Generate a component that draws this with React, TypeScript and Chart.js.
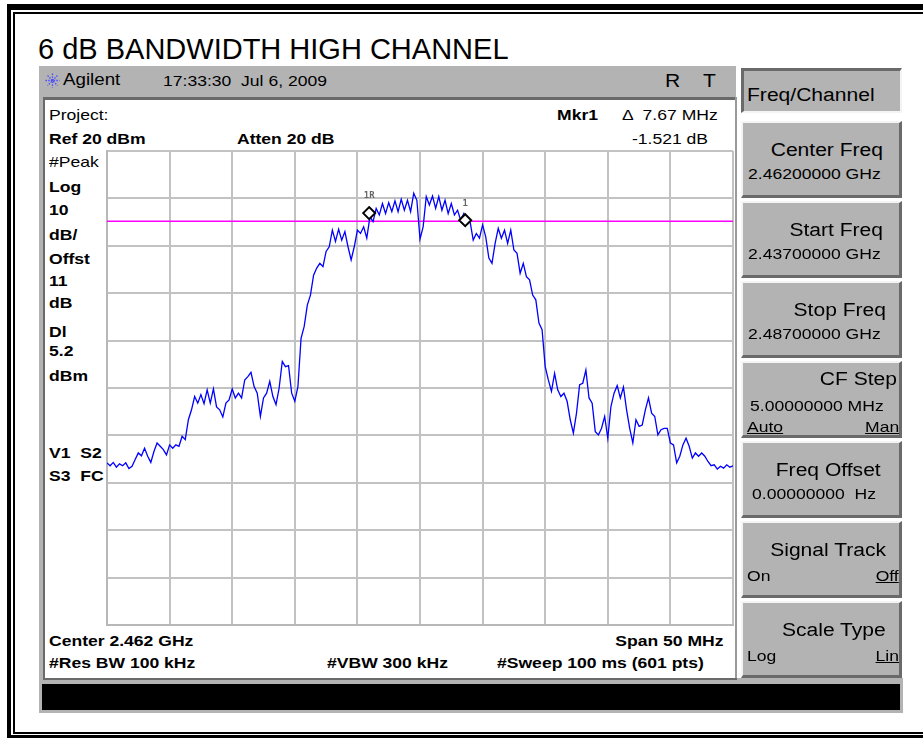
import React, { useEffect, useRef } from "react";
import { Chart, registerables } from "chart.js";

Chart.register(...registerables);

// ---- data ----
const START_MHZ = 2437;
const SPAN_MHZ = 50;
const STEP_MHZ = 0.25;
const REF_LEVEL_DBM = 20;
const DB_PER_DIV = 10;
const DIVISIONS = 10;
const DISPLAY_LINE_DBM = 5.2;

const traceDbm = [
  -45.8, -46.4, -45.7, -46.7, -46.0, -46.4, -45.8, -47.0, -46.5, -45.1,
  -43.7, -44.3, -42.7, -44.4, -45.7, -43.4, -41.6, -42.3, -43.0, -44.1,
  -42.0, -42.7, -42.0, -42.3, -40.2, -40.9, -36.7, -34.6, -31.8, -33.2,
  -31.4, -33.3, -30.4, -33.2, -30.2, -34.0, -34.6, -36.1, -33.2, -32.5,
  -30.2, -32.1, -31.1, -32.1, -28.3, -27.6, -26.7, -29.7, -31.1, -36.0,
  -32.1, -31.1, -28.6, -31.8, -33.5, -30.0, -24.4, -25.5, -25.3, -31.1,
  -32.8, -29.7, -19.5, -17.0, -12.5, -10.4, -6.2, -4.7, -3.7, -4.4,
  -1.2, -0.2, 3.3, 0.9, 3.5, 1.2, 3.0, -0.2, -3.0, -0.2,
  3.3, 2.6, 4.0, 1.6, 6.1, 5.1, 7.9, 6.5, 8.9, 6.8,
  9.1, 7.2, 9.5, 7.2, 9.8, 7.5, 9.6, 7.2, 11.1, 9.6,
  1.4, 4.0, 10.4, 8.6, 10.5, 7.9, 10.4, 7.5, 9.6, 6.8,
  8.9, 6.5, 7.5, 5.4, 6.8, 4.7, 5.1, 1.2, 2.6, 1.6,
  4.4, 1.9, -2.6, -3.7, 0.5, 3.7, 1.6, 3.3, 0.5, 3.3,
  -0.9, -1.6, -5.8, -3.7, -6.5, -7.2, -10.4, -11.4, -16.3, -17.7,
  -25.5, -28.3, -30.7, -26.9, -30.4, -31.8, -31.1, -32.8, -36.7, -39.5,
  -35.3, -29.3, -29.0, -26.2, -32.1, -33.2, -39.2, -39.9, -38.5, -36.0,
  -40.6, -33.9, -31.1, -29.5, -32.1, -29.8, -34.6, -38.5, -41.6, -36.7,
  -38.1, -37.8, -34.6, -32.1, -35.3, -36.0, -39.9, -38.8, -38.5, -38.5,
  -41.6, -42.0, -45.8, -44.4, -42.0, -40.6, -42.3, -44.8, -43.7, -44.4,
  -43.7, -44.4, -45.5, -46.4, -46.2, -47.1, -46.5, -46.9, -46.2, -46.7,
  -46.4,
];

const markerFreqMHz = [2457.94, 2465.61];
const markerLevelDbm = [6.9, 5.4];
const markerNames = ["1R", "1"];

const leftLabels = [
  { t: "#Peak", y: 161, b: false },
  { t: "Log", y: 186, b: true },
  { t: "10", y: 209, b: true },
  { t: "dB/", y: 234, b: true },
  { t: "Offst", y: 258, b: true },
  { t: "11", y: 280, b: true },
  { t: "dB", y: 302, b: true },
  { t: "Dl", y: 331, b: true },
  { t: "5.2", y: 350, b: true },
  { t: "dBm", y: 375, b: true },
  { t: "V1  S2", y: 452, b: true },
  { t: "S3  FC", y: 475, b: true },
];

const softkeys = [
  { title: "Center Freq", titleR: 883, sub: "2.46200000 GHz", subL: 748 },
  { title: "Start Freq", titleR: 883, sub: "2.43700000 GHz", subL: 748 },
  { title: "Stop Freq", titleR: 886, sub: "2.48700000 GHz", subL: 748 },
  { title: "CF Step", titleR: 897, sub: "5.00000000 MHz", subL: 750, l: "Auto", r: "Man" },
  { title: "Freq Offset", titleR: 881, sub: "0.00000000  Hz", subL: 752 },
  { title: "Signal Track", titleR: 886, l: "On", r: "Off", rU: true, lU: false },
  { title: "Scale Type", titleR: 886, l: "Log", r: "Lin", rU: true, lU: false },
];

const FONT = '"Liberation Sans", Arial, Helvetica, sans-serif';
const SX = 1.17;
const W = 923;

function T(props: any) {
  const { x, y, size = 15, bold = false, align = "left", u = false, sx = SX, color = "#000", children } = props;
  const style: any = {
    position: "absolute",
    top: y - size / 2,
    fontSize: size,
    lineHeight: size + "px",
    fontFamily: FONT,
    fontWeight: bold ? "bold" : "normal",
    whiteSpace: "pre",
    color,
    textDecoration: u ? "underline" : "none",
    transform: `scaleX(${sx})`,
    transformOrigin: align === "left" ? "left center" : "right center",
  };
  if (align === "left") style.left = x;
  else style.right = W - x;
  return <div style={style}>{children}</div>;
}

function R(props: any) {
  const { x, y, w, h, bg, style } = props;
  return <div style={{ position: "absolute", left: x, top: y, width: w, height: h, background: bg, boxSizing: "border-box", ...(style || {}) }} />;
}

function Trace() {
  const ref = useRef<HTMLCanvasElement>(null);
  useEffect(() => {
    const stop = START_MHZ + SPAN_MHZ;
    const tracePts = traceDbm.map((v, i) => ({ x: START_MHZ + i * STEP_MHZ, y: v }));
    const markerPts = markerFreqMHz.map((f, i) => ({ x: f, y: markerLevelDbm[i] }));
    const labelPlugin = {
      id: "mkrLabels",
      afterDatasetsDraw(chart: any) {
        const { ctx, scales } = chart;
        ctx.save();
        ctx.font = 'bold 9px "DejaVu Sans Mono", monospace';
        ctx.fillStyle = "#666";
        ctx.textAlign = "center";
        ctx.textBaseline = "middle";
        markerNames.forEach((n, i) => {
          const px = scales.x.getPixelForValue(markerFreqMHz[i]);
          const py = scales.y.getPixelForValue(markerLevelDbm[i]);
          ctx.fillText(n, px, py - 17);
        });
        ctx.restore();
      },
    };
    const grid = { color: "#c2c2c2", lineWidth: 2, drawTicks: false };
    const border = { display: true, color: "#b8b8b8", width: 2 };
    const chart = new Chart(ref.current as HTMLCanvasElement, {
      type: "line",
      data: {
        datasets: [
          {
            label: "Markers",
            data: markerPts,
            showLine: false,
            pointStyle: "rectRot",
            pointRadius: 6,
            pointBorderWidth: 2,
            pointBorderColor: "#000",
            pointBackgroundColor: "#fff",
            order: 0,
          } as any,
          {
            label: "Trace",
            data: tracePts,
            borderColor: "#0000ff",
            borderWidth: 1.3,
            pointRadius: 0,
            tension: 0,
            order: 1,
          },
          {
            label: "DL",
            data: [
              { x: START_MHZ, y: DISPLAY_LINE_DBM },
              { x: stop, y: DISPLAY_LINE_DBM },
            ],
            borderColor: "#ff00ff",
            borderWidth: 1.5,
            pointRadius: 0,
            order: 2,
          },
        ],
      },
      options: {
        responsive: false,
        animation: false,
        layout: { padding: 10 },
        plugins: { legend: { display: false }, tooltip: { enabled: false } },
        scales: {
          x: {
            type: "linear",
            min: START_MHZ,
            max: stop,
            ticks: { display: false, stepSize: SPAN_MHZ / DIVISIONS },
            grid,
            border,
          },
          y: {
            type: "linear",
            min: REF_LEVEL_DBM - DIVISIONS * DB_PER_DIV,
            max: REF_LEVEL_DBM,
            ticks: { display: false, stepSize: DB_PER_DIV },
            grid,
            border,
          },
        },
      } as any,
      plugins: [labelPlugin],
    });
    return () => chart.destroy();
  }, []);
  return (
    <canvas
      ref={ref}
      width={646}
      height={494}
      style={{ position: "absolute", left: 97, top: 141, width: 646, height: 494 }}
    />
  );
}

function Logo() {
  const rays = [0, 45, 90, 135];
  return (
    <svg style={{ position: "absolute", left: 44, top: 72 }} width={17} height={17} viewBox="0 0 17 17">
      {rays.map((a) => (
        <line
          key={a}
          x1={8.5 - 7 * Math.cos((a * Math.PI) / 180)}
          y1={8.5 - 7 * Math.sin((a * Math.PI) / 180)}
          x2={8.5 + 7 * Math.cos((a * Math.PI) / 180)}
          y2={8.5 + 7 * Math.sin((a * Math.PI) / 180)}
          stroke="#4a4aff"
          strokeWidth={1.3}
          strokeDasharray="1.5 1.2"
        />
      ))}
    </svg>
  );
}

const GRAY = "#b3b3b3";
const DARK = "#6a6a6a";
const LIGHT = "#f4f4f4";

export default function App() {
  const btnTop = 121;
  const btnH = 77;
  return (
    <div style={{ position: "absolute", left: 0, top: 0, width: W, height: 738, background: "#fff", overflow: "hidden" }}>
      {/* outer frame */}
      <R x={7} y={4} w={916} h={6} bg="#000" />
      <R x={7} y={4} w={4} h={734} bg="#000" />
      <R x={7} y={735} w={916} h={3} bg="#000" />
      <R x={13} y={12} w={910} h={2} bg="#000" />
      <R x={13} y={12} w={2} h={722} bg="#000" />
      <R x={13} y={732} w={910} h={2} bg="#000" />

      <T x={38} y={49} size={29} sx={1}>6 dB BANDWIDTH HIGH CHANNEL</T>

      {/* instrument header */}
      <R x={39} y={66} w={697} h={31} bg={GRAY} />
      <R x={39} y={97} w={697} h={3} bg={DARK} />
      <R x={39} y={97} w={4} h={616} bg={GRAY} />
      <R x={43} y={97} w={2} h={583} bg={DARK} />
      <R x={735} y={97} w={2} h={583} bg="#9a9a9a" />
      <Logo />
      <T x={63} y={80} size={16}>Agilent</T>
      <T x={163} y={80} size={15}>17:33:30  Jul 6, 2009</T>
      <T x={665} y={81} size={18}>R</T>
      <T x={703} y={81} size={18}>T</T>

      {/* bottom area */}
      <R x={39} y={678} w={864} h={35} bg={GRAY} />
      <R x={43} y={678} w={694} h={2} bg={DARK} />
      <R x={42} y={684} w={858} h={26} bg="#000" />

      {/* display annotations */}
      <T x={49} y={114} size={15}>Project:</T>
      <T x={598} y={114} size={15} bold align="right">Mkr1</T>
      <T x={718} y={114} size={15} align="right">{"\u0394  7.67 MHz"}</T>
      <T x={49} y={138} size={15} bold>Ref 20 dBm</T>
      <T x={237} y={138} size={15} bold>Atten 20 dB</T>
      <T x={708} y={138} size={15} align="right">-1.521 dB</T>
      {leftLabels.map((l) => (
        <T key={l.t + l.y} x={49} y={l.y} size={15} bold={l.b}>{l.t}</T>
      ))}
      <T x={49} y={640} size={15} bold>Center 2.462 GHz</T>
      <T x={724} y={640} size={15} bold align="right">Span 50 MHz</T>
      <T x={49} y={662} size={15} bold>#Res BW 100 kHz</T>
      <T x={327} y={662} size={15} bold>#VBW 300 kHz</T>
      <T x={497} y={662} size={15} bold>#Sweep 100 ms (601 pts)</T>

      <Trace />

      {/* softkeys */}
      <R
        x={741}
        y={68}
        w={161}
        h={45}
        bg={GRAY}
        style={{ borderTop: `3px solid ${DARK}`, borderLeft: `3px solid ${DARK}`, borderRight: `2px solid ${LIGHT}`, borderBottom: `2px solid ${LIGHT}` }}
      />
      <T x={747} y={95} size={18}>Freq/Channel</T>
      {softkeys.map((k, i) => {
        const top = btnTop + i * 80;
        return (
          <React.Fragment key={k.title}>
            <R
              x={741}
              y={top}
              w={161}
              h={btnH}
              bg={GRAY}
              style={{ borderTop: `2px solid ${LIGHT}`, borderLeft: `2px solid ${LIGHT}`, borderRight: `3px solid ${DARK}`, borderBottom: `3px solid ${DARK}` }}
            />
            <T x={k.titleR} y={top + (k.l && k.sub ? 18 : 29)} size={18} align="right">{k.title}</T>
            {k.sub ? <T x={k.subL} y={top + (k.l ? 44 : 52)} size={15}>{k.sub}</T> : null}
            {k.l ? <T x={747} y={top + (k.sub ? 65 : 54)} size={15} u={k.lU !== false}>{k.l}</T> : null}
            {k.r ? <T x={899} y={top + (k.sub ? 65 : 54)} size={15} align="right" u>{k.r}</T> : null}
          </React.Fragment>
        );
      })}
    </div>
  );
}
